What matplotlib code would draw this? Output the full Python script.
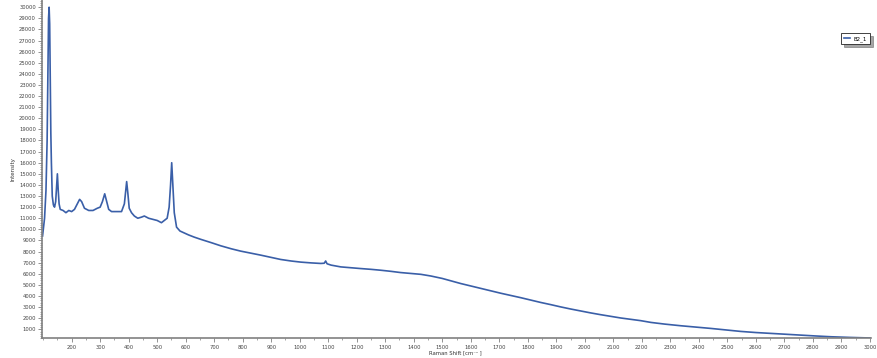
import matplotlib
matplotlib.use("Agg")
import matplotlib.pyplot as plt
from matplotlib.ticker import MultipleLocator

# Raman spectrum B2_1
shift = [98, 105, 110, 114, 117, 119, 121, 123, 125, 127, 129, 132, 136, 140,
         144, 147, 150, 153, 156, 160, 170, 180, 190, 200, 210, 220, 228, 235,
         245, 260, 275, 290, 300, 308, 316, 322, 330, 340, 360, 375, 385, 390,
         393, 397, 402, 410, 420, 432, 445, 455, 470, 485, 500, 515, 525, 535,
         542, 547, 551, 555, 560, 568, 580, 593, 610, 630, 653, 690, 723, 760,
         793, 830, 863, 900, 933, 970, 1004, 1040, 1074, 1086, 1091, 1096, 1110,
         1144, 1180, 1214, 1250, 1284, 1320, 1354, 1390, 1425, 1460, 1500, 1530,
         1565, 1600, 1635, 1670, 1705, 1740, 1775, 1810, 1845, 1881, 1915, 1950,
         1986, 2020, 2055, 2091, 2126, 2160, 2196, 2232, 2280, 2337, 2390, 2442,
         2495, 2547, 2600, 2653, 2705, 2758, 2810, 2863, 2930, 3000]
intensity = [9400, 11000, 13500, 18000, 25000, 29000, 30000, 28500, 24000, 18700,
             16000, 13000, 12200, 12000, 12500, 13800, 15000, 13500, 12300, 11800,
             11700, 11500, 11700, 11600, 11800, 12300, 12700, 12500, 11900, 11700,
             11700, 11900, 12000, 12500, 13200, 12600, 11800, 11600, 11600, 11600,
             12300, 13500, 14300, 13300, 11900, 11500, 11200, 11000, 11100, 11200,
             11000, 10900, 10800, 10600, 10800, 11000, 12000, 14000, 16000, 14000,
             11500, 10200, 9850, 9700, 9500, 9300, 9100, 8800, 8520, 8250, 8040,
             7850, 7680, 7470, 7290, 7150, 7050, 6980, 6930, 6950, 7150, 6900,
             6780, 6620, 6540, 6470, 6400, 6320, 6220, 6110, 6030, 5950, 5800,
             5580, 5370, 5120, 4900, 4680, 4460, 4250, 4050, 3850, 3630, 3420,
             3220, 3020, 2830, 2650, 2480, 2320, 2170, 2020, 1900, 1780, 1620,
             1470, 1320, 1200, 1080, 940, 810, 710, 630, 550, 480, 400, 330, 270,
             220]

LINE = "#3a5fa8"
GREY = "#808080"

fig = plt.figure(figsize=(8.77, 3.58), dpi=100)
ax = fig.add_axes([0.0482, 0.055, 0.945, 0.945])
ax.plot(shift, intensity, color=LINE, lw=1.2, label="B2_1")

ax.set_xlim(97, 3004)
ax.set_ylim(190, 30650)
ax.xaxis.set_minor_locator(MultipleLocator(50))
ax.yaxis.set_minor_locator(MultipleLocator(200))
ax.set_xticks([t for t in range(200, 3001, 100)])
ax.set_yticks([t for t in range(1000, 30001, 1000)])

for side in ("top", "right"):
    ax.spines[side].set_visible(False)
for side in ("left", "bottom"):
    ax.spines[side].set_color(GREY)
    ax.spines[side].set_linewidth(1.2)

ax.tick_params(which="major", direction="out", length=3, width=0.6,
               color=GREY, labelsize=3.8, labelcolor="#444444", pad=1.5)
ax.tick_params(which="minor", direction="out", length=1.5, width=0.5, color=GREY)

ax.set_xlabel("Raman Shift [cm\u207b\u00b9 ]", fontsize=3.8, color="#333333")
ax.xaxis.set_label_coords(0.498, -0.036)
ax.set_ylabel("Intensity", fontsize=4, color="#333333")
ax.yaxis.set_label_coords(-0.032, 0.5)

leg = ax.legend(loc="upper right", bbox_to_anchor=(0.9987, 0.902), fontsize=4,
                frameon=True, shadow=True, fancybox=False, handlelength=1.2,
                borderpad=0.5, handletextpad=0.6, borderaxespad=0)
leg.get_frame().set_edgecolor("#222222")
leg.get_frame().set_linewidth(0.6)

fig.savefig("out.png", dpi=100)
